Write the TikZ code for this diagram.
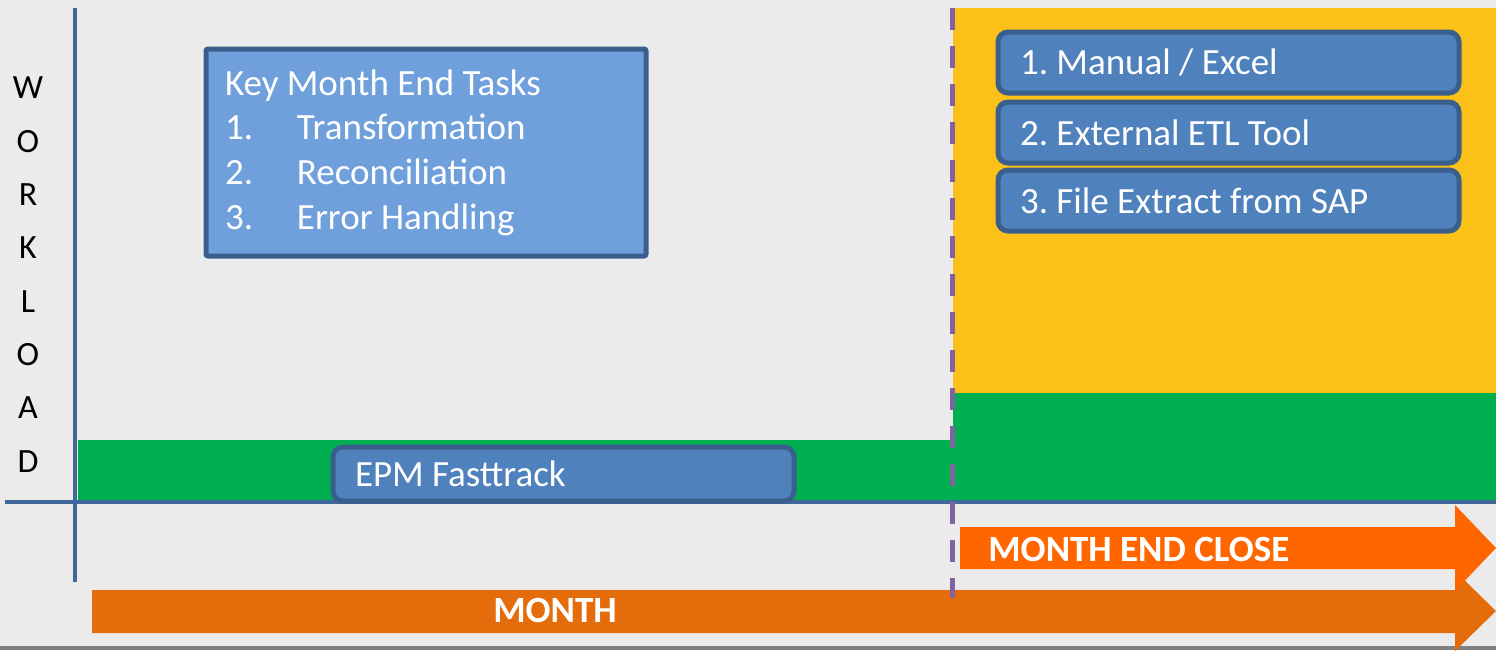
\documentclass[tikz,border=0pt]{standalone}
\usepackage{fontspec}
\setmainfont{Carlito}
\usetikzlibrary{positioning}
\definecolor{bggray}{HTML}{EBEBEB}
\definecolor{axisblue}{HTML}{41689A}
\definecolor{boxedge}{HTML}{3A5F8D}
\definecolor{keyfill}{HTML}{6FA0DC}
\definecolor{itemfill}{HTML}{4F81BD}
\definecolor{closeyellow}{HTML}{FBC118}
\definecolor{loadgreen}{HTML}{00B050}
\definecolor{splitpurple}{HTML}{8064A2}
\definecolor{monthorange}{HTML}{E46C0A}
\definecolor{closeorange}{HTML}{FF6600}
\newcommand{\natspace}{\spaceskip=0pt\xspaceskip=0pt\relax}
\tikzset{
  axis/.style={draw=axisblue,line width=1.6pt},
  letter/.style={font=\fontsize{17}{20}\selectfont,text=black,inner sep=0pt},
  keybox/.style={draw=boxedge,fill=keyfill,line width=2.5pt,rounded corners=1pt,text=white,
    font=\fontsize{18.5}{22.35}\selectfont,align=left,anchor=north west,
    text width=201pt,inner xsep=9.5pt,inner ysep=0pt,minimum height=103.5pt,
    execute at begin node=\natspace},
  itembox/.style={draw=boxedge,fill=itemfill,line width=2.5pt,rounded corners=5pt,
    text=white,font=\fontsize{18.5}{21}\selectfont,align=left,anchor=north west,
    text width=208.5pt,inner xsep=11pt,inner ysep=0pt,minimum height=30.5pt,
    execute at begin node=\natspace},
  arrowlbl/.style={text=white,font=\bfseries\fontsize{18.5}{21}\selectfont,inner sep=0pt},
}
\newcommand{\taskline}[2]{\makebox[36pt][l]{#1}#2}
\frenchspacing
\begin{document}
\begin{tikzpicture}[x=0.5pt,y=-0.5pt]
  \useasboundingbox (0,0) rectangle (1496,650);
  \fill[bggray] (0,0) rectangle (1496,650);
  \fill[gray] (0,646) rectangle (1496,650);
  % close period and workload bars
  \fill[closeyellow] (953,8) rectangle (1496,395);
  \fill[loadgreen] (78,440) rectangle (953,501);
  \fill[loadgreen] (953,393) rectangle (1496,501);
  % axes
  \draw[axis] (75,8) -- (75,582);
  \draw[axis] (5,502) -- (1496,502);
  \foreach \ch [count=\i from 0] in {W,O,R,K,L,O,A,D}
    \node[letter] (wl\i) at (28,{88+53.3*\i}) {\ch};
  % time arrows
  \fill[monthorange] (92,590) -- (1455,590) -- (1455,571) -- (1496,611)
    -- (1455,651) -- (1455,633) -- (92,633) -- cycle;
  \fill[closeorange] (960,527) -- (1455,527) -- (1455,505) -- (1496,548)
    -- (1455,591) -- (1455,569) -- (960,569) -- cycle;
  \node[arrowlbl] (month) at (555,610) {MONTH};
  \node[arrowlbl,anchor=west] (closelbl) at (988,549) {MONTH END CLOSE};
  % month end split
  \draw[splitpurple,line width=2.5pt,dash pattern=on 11pt off 8pt] (952.5,8) -- (952.5,598);
  % boxes
  \node[keybox] (tasks) at (203.5,46.5) {Key Month End Tasks\\
    \taskline{1.}{Transformation}\\
    \taskline{2.}{Reconciliation}\\
    \taskline{3.}{Error Handling}};
  \node[itembox] (manual) at (995.5,29.5) {1. Manual / Excel};
  \node[itembox] (etl) at (995.5,99.5) {2. External ETL Tool};
  \node[itembox] (sap) at (995.5,167.5) {3. File Extract from SAP};
  \node[itembox,minimum height=27pt] (epm) at (330.5,444.5) {EPM Fasttrack};
\end{tikzpicture}
\end{document}
